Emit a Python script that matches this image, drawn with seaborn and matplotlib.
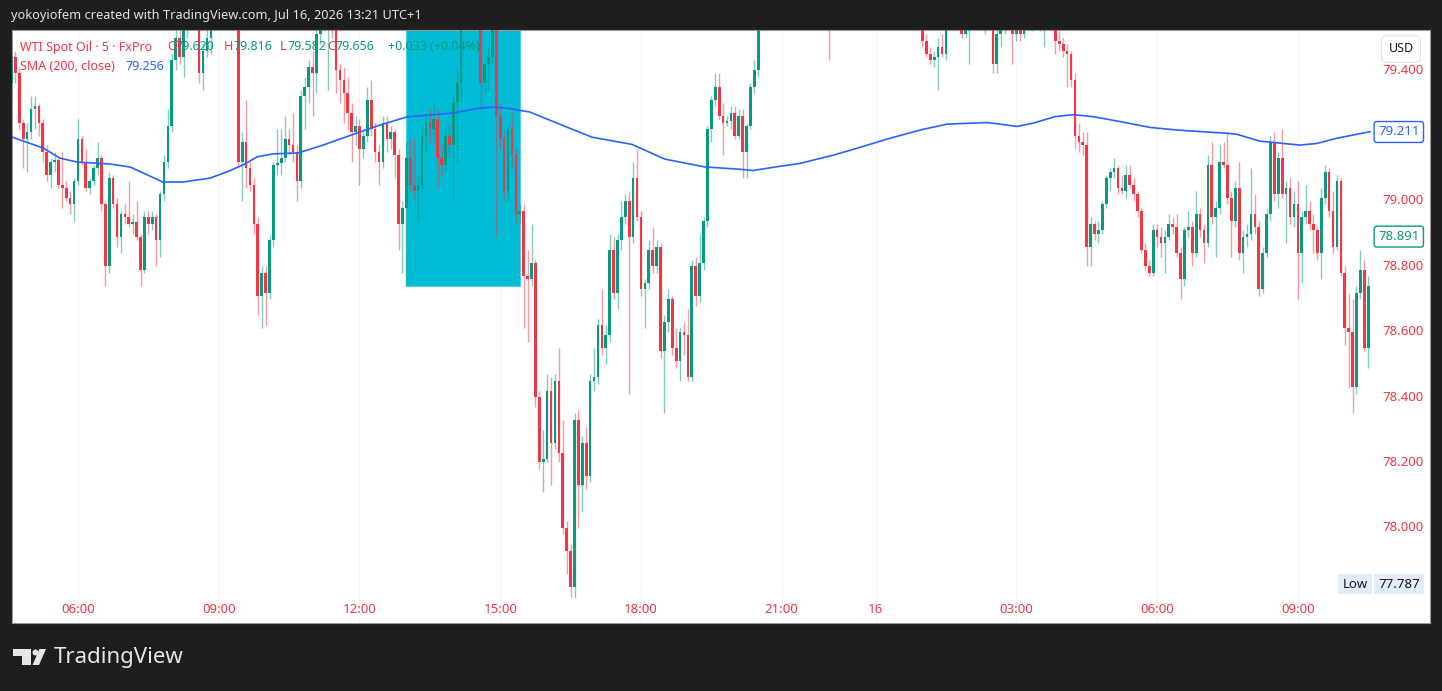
import numpy as np
import pandas as pd
import seaborn as sns
import matplotlib.pyplot as plt
import matplotlib.transforms as mtransforms
from matplotlib.patches import Rectangle, Polygon, Ellipse

# ---- data (WTI Spot Oil, 5 min, FxPro) ----
first_open = 79.36
closes = [
    79.44, 79.39, 79.24, 79.19, 79.21, 79.28, 79.29, 79.24, 79.15, 79.08,
    79.12, 79.125, 79.05, 79.04, 79.01, 78.99, 79.06, 79.19, 79.12, 79.04,
    79.06, 79.10, 79.13, 78.99, 78.80, 79.07, 78.99, 78.89, 78.96, 78.95,
    78.93, 78.935, 78.89, 78.79, 78.95, 78.93, 78.95, 78.88, 79.02, 79.12,
    79.23, 79.43, 79.50, 79.44, 79.53, 79.60, 79.63, 79.56, 79.39, 79.46,
    79.50, 79.58, 79.65, 79.70, 79.68, 79.74, 79.70, 79.60, 79.12, 79.18,
    79.10, 79.05, 78.93, 78.71, 78.78, 78.72, 78.88, 79.11, 79.115, 79.13,
    79.19, 79.17, 79.15, 79.06, 79.32, 79.35, 79.41, 79.39, 79.51, 79.60,
    79.57, 79.63, 79.56, 79.40, 79.37, 79.33, 79.27, 79.21, 79.23, 79.16,
    79.20, 79.31, 79.22, 79.15, 79.12, 79.24, 79.19, 79.21, 79.14, 78.93,
    78.98, 79.13, 79.05, 79.03, 79.05, 79.20, 79.24, 79.22, 79.25, 79.13,
    79.11, 79.20, 79.17, 79.30, 79.36, 79.55, 79.60, 79.58, 79.64, 79.55,
    79.36, 79.42, 79.44, 79.56, 79.26, 79.19, 79.03, 79.22, 79.14, 78.96,
    78.97, 78.77, 78.76, 78.81, 78.40, 78.20, 78.21, 78.42, 78.26, 78.45,
    78.23, 78.00, 77.93, 77.82, 78.33, 78.13, 78.26, 78.16, 78.45, 78.46,
    78.62, 78.55, 78.59, 78.85, 78.72, 78.88, 78.95, 79.00, 78.89, 79.07,
    78.95, 78.73, 78.75, 78.85, 78.80, 78.86, 78.54, 78.63, 78.70, 78.55,
    78.51, 78.60, 78.59, 78.46, 78.80, 78.71, 78.81, 78.94, 79.22, 79.31,
    79.35, 79.26, 79.24, 79.245, 79.27, 79.20, 79.26, 79.15, 79.23, 79.35,
    79.40, 79.53, 79.60, 79.66, 79.62, 79.69, 79.73, 79.67, 79.70, 79.75,
    79.71, 79.66, 79.69, 79.74, 79.72, 79.68, 79.71, 79.67, 79.70, 79.62,
    79.67, 79.72, 79.70, 79.73, 79.78, 79.75, 79.70, 79.67, 79.71, 79.69,
    79.65, 79.68, 79.72, 79.69, 79.64, 79.66, 79.70, 79.66, 79.63, 79.65,
    79.61, 79.62, 79.58, 79.49, 79.45, 79.43, 79.44, 79.47, 79.45, 79.58,
    79.63, 79.60, 79.62, 79.51, 79.56, 79.62, 79.59, 79.61, 79.60, 79.55,
    79.60, 79.42, 79.51, 79.58, 79.62, 79.60, 79.51, 79.55, 79.51, 79.58,
    79.56, 79.62, 79.60, 79.53, 79.58, 79.62, 79.58, 79.49, 79.48, 79.46,
    79.45, 79.37, 79.20, 79.18, 79.17, 78.86, 78.93, 78.90, 78.91, 78.99,
    79.07, 79.09, 79.10, 79.04, 79.03, 79.08, 79.05, 79.02, 78.97, 78.85,
    78.80, 78.78, 78.91, 78.89, 78.87, 78.89, 78.93, 78.92, 78.84, 78.76,
    78.91, 78.92, 78.84, 78.96, 78.91, 78.87, 79.11, 78.95, 78.98, 79.12,
    79.11, 79.01, 78.94, 79.04, 78.84, 78.89, 78.90, 78.96, 78.92, 78.73,
    78.84, 78.96, 79.18, 79.02, 79.13, 79.02, 79.04, 78.95, 78.99, 78.84,
    78.95, 78.97, 78.93, 78.91, 78.84, 79.01, 79.09, 78.97, 78.86, 79.06,
    78.78, 78.61, 78.60, 78.43, 78.72, 78.79, 78.55, 78.74,
]
highs = [
    79.50, 79.46, 79.41, 79.25, 79.24, 79.32, 79.32, 79.30, 79.25, 79.17,
    79.13, 79.15, 79.13, 79.15, 79.06, 79.03, 79.07, 79.25, 79.20, 79.16,
    79.07, 79.11, 79.18, 79.14, 79.00, 79.09, 79.08, 79.01, 78.97, 78.99,
    79.06, 78.96, 79.00, 78.90, 78.97, 78.97, 78.97, 78.96, 79.03, 79.14,
    79.28, 79.45, 79.58, 79.56, 79.57, 79.64, 79.67, 79.66, 79.58, 79.48,
    79.53, 79.61, 79.68, 79.73, 79.74, 79.78, 79.77, 79.72, 79.64, 79.21,
    79.31, 79.12, 79.07, 78.95, 78.80, 78.80, 78.90, 79.12, 79.22, 79.22,
    79.26, 79.22, 79.27, 79.17, 79.34, 79.38, 79.43, 79.46, 79.55, 79.66,
    79.64, 79.68, 79.66, 79.58, 79.42, 79.41, 79.38, 79.30, 79.26, 79.25,
    79.22, 79.35, 79.37, 79.24, 79.17, 79.26, 79.26, 79.23, 79.22, 79.16,
    79.00, 79.18, 79.19, 79.19, 79.08, 79.23, 79.27, 79.28, 79.30, 79.28,
    79.17, 79.23, 79.24, 79.32, 79.40, 79.58, 79.66, 79.65, 79.70, 79.67,
    79.58, 79.45, 79.47, 79.58, 79.60, 79.30, 79.21, 79.24, 79.27, 79.16,
    78.99, 78.99, 78.85, 78.93, 78.82, 78.42, 78.30, 78.47, 78.46, 78.47,
    78.55, 78.33, 78.02, 77.95, 78.35, 78.36, 78.28, 78.31, 78.47, 78.55,
    78.64, 78.73, 78.62, 78.90, 78.89, 78.90, 79.00, 79.02, 79.03, 79.12,
    79.16, 78.97, 78.76, 78.88, 78.92, 78.88, 78.87, 78.65, 78.73, 78.71,
    78.61, 78.61, 78.63, 78.67, 78.82, 78.83, 78.90, 78.95, 79.23, 79.32,
    79.39, 79.39, 79.30, 79.26, 79.29, 79.29, 79.28, 79.28, 79.24, 79.36,
    79.43, 79.56, 79.62, 79.68, 79.70, 79.71, 79.76, 79.75, 79.72, 79.78,
    79.79, 79.74, 79.71, 79.77, 79.80, 79.76, 79.73, 79.75, 79.72, 79.72,
    79.70, 79.74, 79.78, 79.75, 79.82, 79.816, 79.79, 79.74, 79.73, 79.76,
    79.72, 79.70, 79.74, 79.75, 79.71, 79.69, 79.72, 79.73, 79.69, 79.67,
    79.68, 79.64, 79.65, 79.60, 79.51, 79.47, 79.46, 79.50, 79.51, 79.60,
    79.66, 79.68, 79.65, 79.66, 79.58, 79.64, 79.67, 79.64, 79.65, 79.63,
    79.62, 79.62, 79.53, 79.60, 79.64, 79.65, 79.62, 79.57, 79.57, 79.61,
    79.63, 79.64, 79.65, 79.62, 79.60, 79.65, 79.64, 79.60, 79.52, 79.50,
    79.48, 79.46, 79.39, 79.24, 79.21, 79.21, 78.95, 78.94, 78.94, 79.00,
    79.08, 79.10, 79.13, 79.11, 79.08, 79.11, 79.11, 79.07, 79.03, 78.98,
    78.87, 78.82, 78.93, 78.93, 78.92, 78.91, 78.96, 78.95, 78.96, 78.86,
    78.92, 78.97, 78.94, 79.03, 78.98, 78.93, 79.14, 79.18, 79.00, 79.17,
    79.18, 79.21, 79.03, 79.06, 79.12, 78.91, 78.93, 79.10, 79.02, 78.94,
    78.86, 78.98, 79.20, 79.21, 79.15, 79.22, 79.06, 79.07, 79.03, 79.06,
    78.97, 79.05, 79.00, 78.96, 78.92, 79.04, 79.11, 79.10, 79.03, 79.08,
    79.07, 78.80, 78.72, 78.70, 78.74, 78.85, 78.82, 78.77,
]
lows = [
    79.33, 79.36, 79.22, 79.10, 79.09, 79.19, 79.22, 79.20, 79.12, 79.06,
    79.04, 79.09, 79.04, 78.98, 79.00, 78.96, 78.94, 79.05, 79.11, 79.03,
    79.02, 79.05, 79.08, 78.97, 78.74, 78.78, 78.98, 78.86, 78.84, 78.93,
    78.92, 78.90, 78.88, 78.74, 78.78, 78.90, 78.91, 78.80, 78.83, 79.00,
    79.10, 79.21, 79.40, 79.42, 79.38, 79.50, 79.55, 79.53, 79.36, 79.34,
    79.44, 79.45, 79.56, 79.62, 79.64, 79.66, 79.67, 79.58, 79.10, 79.00,
    79.04, 79.03, 78.90, 78.65, 78.61, 78.62, 78.70, 78.86, 79.08, 79.08,
    79.12, 79.14, 79.12, 79.00, 79.04, 79.22, 79.30, 79.26, 79.33, 79.48,
    79.52, 79.34, 79.50, 79.33, 79.30, 79.24, 79.22, 79.12, 79.17, 79.05,
    79.13, 79.18, 79.20, 79.12, 79.05, 79.10, 79.15, 79.16, 79.07, 78.85,
    78.78, 78.74, 79.03, 79.01, 78.94, 79.03, 79.15, 79.18, 79.18, 79.04,
    79.08, 79.09, 79.13, 79.00, 79.12, 79.30, 79.53, 79.54, 79.56, 79.53,
    79.28, 79.33, 79.34, 79.42, 78.89, 79.16, 79.00, 79.00, 79.10, 78.93,
    78.93, 78.61, 78.57, 78.74, 78.37, 78.18, 78.11, 78.20, 78.13, 78.24,
    78.20, 77.98, 77.86, 77.79, 77.787, 78.00, 78.05, 78.12, 78.14, 78.42,
    78.44, 78.53, 78.50, 78.57, 78.70, 78.67, 78.85, 78.93, 78.41, 78.87,
    78.94, 78.71, 78.61, 78.73, 78.78, 78.78, 78.52, 78.35, 78.60, 78.53,
    78.49, 78.45, 78.53, 78.45, 78.45, 78.68, 78.69, 78.79, 78.92, 79.18,
    79.29, 79.25, 79.14, 79.23, 79.22, 79.19, 79.19, 79.07, 79.07, 79.22,
    79.33, 79.38, 79.53, 79.57, 79.60, 79.59, 79.66, 79.64, 79.62, 79.68,
    79.69, 79.63, 79.60, 79.67, 79.70, 79.66, 79.62, 79.65, 79.63, 79.43,
    79.58, 79.63, 79.68, 79.64, 79.71, 79.72, 79.68, 79.64, 79.62, 79.66,
    79.62, 79.60, 79.65, 79.66, 79.62, 79.59, 79.63, 79.64, 79.60, 79.58,
    79.59, 79.56, 79.57, 79.47, 79.44, 79.42, 79.41, 79.34, 79.44, 79.43,
    79.55, 79.58, 79.56, 79.50, 79.50, 79.42, 79.57, 79.55, 79.56, 79.51,
    79.53, 79.39, 79.39, 79.47, 79.51, 79.55, 79.42, 79.49, 79.49, 79.50,
    79.55, 79.52, 79.56, 79.52, 79.47, 79.55, 79.54, 79.45, 79.46, 79.44,
    79.35, 79.35, 79.16, 79.15, 79.14, 78.80, 78.80, 78.88, 78.87, 78.90,
    78.98, 79.03, 79.07, 79.02, 79.02, 79.01, 79.04, 79.00, 78.95, 78.84,
    78.79, 78.77, 78.77, 78.86, 78.83, 78.78, 78.88, 78.90, 78.83, 78.70,
    78.74, 78.89, 78.80, 78.83, 78.89, 78.81, 78.86, 78.93, 78.83, 78.96,
    79.10, 78.99, 78.83, 78.92, 78.82, 78.78, 78.86, 78.88, 78.90, 78.71,
    78.72, 78.83, 78.94, 79.00, 78.98, 79.01, 78.87, 78.93, 78.92, 78.70,
    78.75, 78.93, 78.91, 78.84, 78.82, 78.76, 78.99, 78.95, 78.84, 78.85,
    78.77, 78.56, 78.43, 78.35, 78.41, 78.70, 78.54, 78.49,
]
opens = [first_open] + closes[:-1]

# trading sessions (one hour break 22:00-23:00)
session_15 = pd.date_range("2026-07-15 04:35", "2026-07-15 21:55", freq="5min")
session_16 = pd.date_range("2026-07-15 23:00", "2026-07-16 10:30", freq="5min")
times = session_15.append(session_16)

# SMA(200), at bar numbers
sma_bar = [0, 8.1, 12.4, 16.8, 25.2, 30.3, 33.6, 38.7, 43.9, 50.8,
           55.1, 59.7, 62.8, 66.9, 73.3, 79.7, 88.4, 94.2, 101.1, 112.9,
           119.8, 123.1, 126.7, 132.6, 141.6, 148.5, 158.7, 167.1, 177.4, 186.3,
           189.6, 194.8, 201.7, 210.1, 216.2, 224.7, 233.1, 239.3, 249.5, 252.8,
           257.2, 261.3, 266.9, 271.5, 276.6, 283.5, 291.2, 298.1, 310.9, 313.4,
           319.3, 321.9, 329.5, 333.9, 339.0, 347.5]
sma_val = [79.196, 79.162, 79.131, 79.119, 79.113, 79.104, 79.086, 79.058, 79.058, 79.070,
           79.089, 79.113, 79.135, 79.144, 79.147, 79.171, 79.208, 79.232, 79.257, 79.269,
           79.284, 79.287, 79.284, 79.272, 79.228, 79.195, 79.173, 79.128, 79.104, 79.097,
           79.093, 79.103, 79.115, 79.140, 79.161, 79.192, 79.219, 79.235, 79.240, 79.235,
           79.228, 79.238, 79.258, 79.264, 79.258, 79.243, 79.225, 79.217, 79.207, 79.204,
           79.183, 79.180, 79.171, 79.176, 79.192, 79.212]

tick_times = ["2026-07-15 06:00", "2026-07-15 09:00", "2026-07-15 12:00", "2026-07-15 15:00",
              "2026-07-15 18:00", "2026-07-15 21:00", "2026-07-16 00:00", "2026-07-16 03:00",
              "2026-07-16 06:00", "2026-07-16 09:00"]
tick_labels = ["06:00", "09:00", "12:00", "15:00", "18:00", "21:00", "16", "03:00", "06:00", "09:00"]
price_ticks = [79.4, 79.0, 78.8, 78.6, 78.4, 78.2, 78.0]

rect_start, rect_end = "2026-07-15 13:00", "2026-07-15 15:25"
rect_low, rect_high = 78.74, 79.70

last_price = 78.891
sma_last = 79.211
day_low = 77.787

# ---- styles ----
W, H = 1442, 691
UP, DOWN = "#089981", "#f23645"
BLUE = "#2962ff"
DARK = "#1e1e1e"

df = pd.DataFrame({"time": times, "open": opens, "high": highs, "low": lows, "close": closes})
df["bar"] = np.arange(len(df))
bar_of = {t: i for i, t in enumerate(df["time"])}

sns.set_theme(style="white")
plt.rcParams["font.family"] = ["Noto Sans", "DejaVu Sans"]

fig = plt.figure(figsize=(W / 100, H / 100), dpi=100, facecolor=DARK)
ax = fig.add_axes([12 / W, (H - 623) / H, 1418 / W, 593 / H])
ax.set_facecolor("white")
ax.set_xlim(0.13, 362.8)
ax.set_ylim(77.709, 79.523)
ax.set_xticks([])
ax.set_yticks([])
for s in ax.spines.values():
    s.set_color("#9a9a9a")
    s.set_linewidth(0.8)

tick_bars = [bar_of[pd.Timestamp(t)] for t in tick_times]
for b in tick_bars:
    ax.axvline(b, color="#f2f3f6", lw=0.8, zorder=0)

# rectangle drawing
x0 = bar_of[pd.Timestamp(rect_start)]
x1 = bar_of[pd.Timestamp(rect_end)]
ax.add_patch(Rectangle((x0, rect_low), x1 - x0, rect_high - rect_low,
                       facecolor="#00bcd4", edgecolor="#4dd0e1", lw=0.8, zorder=1))

# candles
up = df["close"] >= df["open"]
cols = np.where(up, UP, DOWN)
ax.vlines(df["bar"], df["low"], df["high"], colors=cols, alpha=0.5, linewidth=1.0, zorder=3)
body_low = df[["open", "close"]].min(axis=1)
body_h = (df["close"] - df["open"]).abs().clip(lower=0.004)
ax.bar(df["bar"], body_h, bottom=body_low, width=0.68, color=cols, linewidth=0, zorder=4)

# SMA 200
sns.lineplot(x=sma_bar, y=sma_val, ax=ax, color=BLUE, linewidth=1.2, sort=False,
             estimator=None, zorder=5)

# time labels
tr_x = mtransforms.blended_transform_factory(ax.transData, ax.transAxes)
for b, lab in zip(tick_bars, tick_labels):
    ax.text(b, 0.0236, lab, transform=tr_x, ha="center", va="center", color=DOWN,
            fontsize=9.5, fontweight="bold" if lab == "16" else "normal")

# price scale
tr_y = mtransforms.blended_transform_factory(ax.transAxes, ax.transData)
for p in price_ticks:
    ax.text(0.9958, p, f"{p:.3f}", transform=tr_y, ha="right", va="center",
            color=DOWN, fontsize=9.5, zorder=6)


def tag(y, text, color):
    ax.text(0.978, y, text, transform=tr_y, ha="center", va="center", color=color,
            fontsize=9.5, zorder=10,
            bbox=dict(boxstyle="round,pad=0.3,rounding_size=0.2", fc="white", ec=color, lw=1))


tag(sma_last, f"{sma_last:.3f}", BLUE)
tag(last_price, f"{last_price:.3f}", UP)


def fx(x, y):
    return x / W, 1 - y / H


# Low label
fig.text(*fx(1355, 584), "Low", ha="center", va="center", color="#131722", fontsize=9.5,
         bbox=dict(boxstyle="square,pad=0.3", fc="#e3edfa", ec="none"))
fig.text(*fx(1399, 584), f"{day_low:.3f}", ha="center", va="center", color="#131722",
         fontsize=9.5, bbox=dict(boxstyle="square,pad=0.3", fc="#e3edfa", ec="none"))

# USD button
fig.text(*fx(1401, 49), "USD", ha="center", va="center", color="#131722", fontsize=9,
         bbox=dict(boxstyle="round,pad=0.55,rounding_size=0.4", fc="white", ec="#e0e3eb", lw=0.8))

# legend
legend = [
    ("WTI Spot Oil · 5 · FxPro", DOWN, 20, 47),
    ("O", DOWN, 167, 47), ("79.620", UP, 176, 47),
    ("H", DOWN, 224, 47), ("79.816", UP, 233, 47),
    ("L", DOWN, 280, 47), ("79.582", UP, 287, 47),
    ("C", DOWN, 327, 47), ("79.656", UP, 336, 47),
    ("+0.033 (+0.04%)", UP, 388, 47),
    ("SMA (200, close)", DOWN, 20, 67), ("79.256", BLUE, 125, 67),
]
for txt, c, x, y in legend:
    fig.text(*fx(x, y), txt, ha="left", va="center", color=c, fontsize=9, zorder=20)

# header
fig.text(*fx(11, 15), "yokoyiofem created with TradingView.com, Jul 16, 2026 13:21 UTC+1",
         ha="left", va="center", color="#e2e2e2", fontsize=9.2, fontweight="semibold")

# footer logo
logo_c = "#e6e6e6"
fig.patches.append(Polygon([fx(13, 649), fx(31, 649), fx(31, 665), fx(22, 665), fx(22, 656), fx(13, 656)],
                           closed=True, fc=logo_c, ec="none", transform=fig.transFigure))
fig.patches.append(Ellipse(fx(35.5, 652.5), 6 / W, 6 / H, fc=logo_c, ec="none", transform=fig.transFigure))
fig.patches.append(Polygon([fx(39.5, 649), fx(46, 649), fx(39, 665), fx(32.5, 665)],
                           closed=True, fc=logo_c, ec="none", transform=fig.transFigure))
fig.text(*fx(54, 658), "TradingView", ha="left", va="center", color=logo_c,
         fontsize=16, fontweight="bold")

fig.savefig("out.png", dpi=100, facecolor=fig.get_facecolor())
